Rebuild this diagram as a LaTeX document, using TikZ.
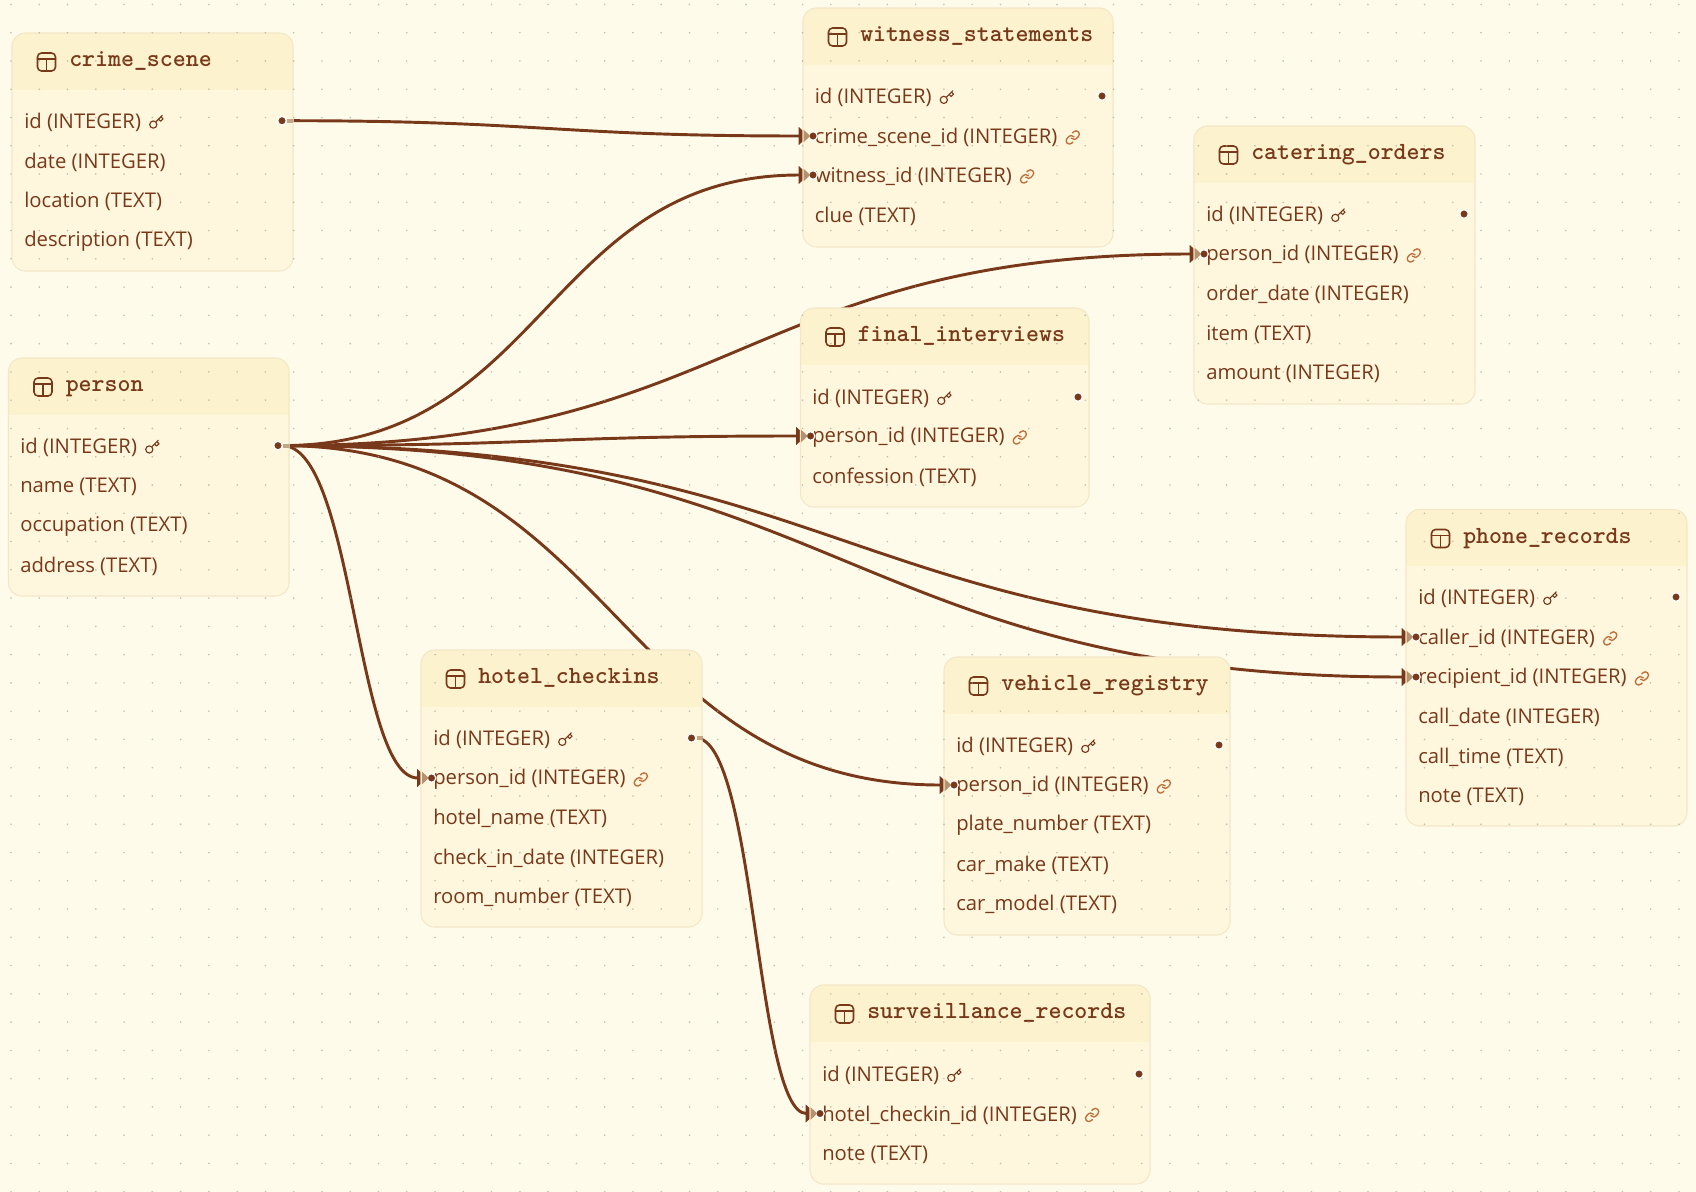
\documentclass[tikz,border=0pt]{standalone}
\usepackage{fontspec}
\setmainfont{Open Sans}
\usetikzlibrary{arrows}
\usetikzlibrary{arrows.meta}
\usetikzlibrary{svg.path}
\definecolor{paper}{HTML}{FFFBEB}
\definecolor{cardbody}{HTML}{FEF6DD}
\definecolor{cardhead}{HTML}{FCF2CD}
\definecolor{cardline}{HTML}{F4E7C8}
\definecolor{ink}{HTML}{78391A}
\definecolor{linkink}{HTML}{BE6F3A}
\definecolor{stub}{HTML}{B4926F}
\definecolor{griddot}{HTML}{ABA698}
\pgfdeclarelayer{edges}
\pgfsetlayers{edges,main}
\tikzset{
  rowtext/.style={anchor=west,inner sep=0pt,yshift=-1.1pt,text=ink,font=\fontsize{15.2}{18}\selectfont},
  headtext/.style={anchor=base west,inner sep=0pt,text=ink,font=\fontsize{18.5}{22}\ttfamily\bfseries},
  handle/.style={circle,fill=ink,draw=white,line width=0.9pt,inner sep=0pt,minimum size=6.4pt,outer sep=0pt},
  rel/.style={draw=ink,line width=2.2pt,-{Triangle[length=7.5pt,width=13pt]}},
  keyicon/.pic={
    \draw[ink,line width=0.85pt] (-3,2.4) circle (3.6);
    \draw[ink,line width=0.85pt] (6,-6.7) -- (-0.4,-0.3) (2.3,-3) -- (4.3,-1) -- (6.7,-3.3) -- (4.7,-5.3);
  },
  linkicon/.pic={
    \draw[linkink,line width=1pt,xshift=-6pt,yshift=6pt,yscale=-1,scale=0.5] svg {M10 13a5 5 0 0 0 7.54.54l3-3a5 5 0 0 0-7.07-7.07l-1.72 1.71};
    \draw[linkink,line width=1pt,xshift=-6pt,yshift=6pt,yscale=-1,scale=0.5] svg {M14 11a5 5 0 0 0-7.54-.54l-3 3a5 5 0 0 0 7.07 7.07l1.71-1.71};
  },
  tabicon/.pic={
    \draw[ink,line width=1.2pt,rounded corners=3] (-9,-9) rectangle (9,9);
    \draw[ink,line width=1.2pt] (-9,-3) -- (9,-3) (0,-3) -- (0,9);
  },
  tiplight/.pic={\fill[stub] (-9.3,-6.2) -- (-2.8,0) -- (-9.3,6.2) -- cycle;},
  stublight/.pic={\fill[stub,fill opacity=0.8] (5,-2) rectangle (11,2);}
}
% table card: name, left, top, right, bottom, title
\newcommand{\tablecard}[6]{
  \fill[cardbody,rounded corners=10] (#2,#3) rectangle (#4,#5);
  \begin{scope}
  \clip[rounded corners=10] (#2,#3) rectangle (#4,#5);
  \fill[cardhead] (#2,#3) rectangle (#4,#3+56.6);
  \end{scope}
  \draw[cardline,line width=0.8pt,rounded corners=10] (#2,#3) rectangle (#4,#5);
  \pic at (#2+34.5,#3+29) {tabicon};
  \node[headtext] (#1) at (#2+57,#3+33.5) {#6};
}
\begin{document}
\begin{tikzpicture}[line cap=round,line join=round,>=Stealth,x=0.75pt,y=-0.75pt]
\useasboundingbox (0,0) rectangle (1696,1192);
\begin{pgfonlayer}{edges}
\fill[paper] (0,0) rectangle (1696,1192);
\end{pgfonlayer}
\tablecard{crime_scene}{12}{33}{293}{271}{crime\_scene}
\tablecard{witness_statements}{803}{8}{1113}{247}{witness\_statements}
\tablecard{catering_orders}{1194}{126}{1475}{404}{catering\_orders}
\tablecard{final_interviews}{800.5}{308}{1089}{507}{final\_interviews}
\tablecard{person}{8.5}{358}{289}{596}{person}
\tablecard{phone_records}{1406}{509.5}{1687}{826}{phone\_records}
\tablecard{hotel_checkins}{421}{650}{702}{927}{hotel\_checkins}
\tablecard{vehicle_registry}{944}{657}{1230}{935}{vehicle\_registry}
\tablecard{surveillance_records}{810}{985}{1150}{1184}{surveillance\_records}
% grid
\fill[griddot,fill opacity=0.7] \foreach \gx in {0,...,59} {\foreach \gy in {0,...,42} {(11+28.27*\gx,4.4+28.27*\gy) circle (0.9)}};
% crime_scene
\node[rowtext] (cs_id) at (24,120.7) {id (INTEGER)};
\node[rowtext] (cs_date) at (24,160.5) {date (INTEGER)};
\node[rowtext] (cs_location) at (24,200) {location (TEXT)};
\node[rowtext] (cs_description) at (24,239.5) {description (TEXT)};
\pic at ([shift={(15,0)}]cs_id.east) {keyicon};
\node[handle] (cs_id_out) at (282,120.7) {};
% witness_statements
\node[rowtext] (ws_id) at (814.5,96) {id (INTEGER)};
\node[rowtext] (ws_scene) at (814.5,136) {crime\_scene\_id (INTEGER)};
\node[rowtext] (ws_witness) at (814.5,175) {witness\_id (INTEGER)};
\node[rowtext] (ws_clue) at (814.5,215) {clue (TEXT)};
\pic at ([shift={(15,0)}]ws_id.east) {keyicon};
\pic at ([shift={(15,0)}]ws_scene.east) {linkicon};
\pic at ([shift={(15,0)}]ws_witness.east) {linkicon};
\node[handle] (ws_id_out) at (1102,96) {};
\node[handle] (ws_scene_in) at (813,136) {};
\node[handle] (ws_witness_in) at (813,175) {};
% catering_orders
\node[rowtext] (co_id) at (1206,214) {id (INTEGER)};
\node[rowtext] (co_person) at (1206,254) {person\_id (INTEGER)};
\node[rowtext] (co_date) at (1206,293) {order\_date (INTEGER)};
\node[rowtext] (co_item) at (1206,333) {item (TEXT)};
\node[rowtext] (co_amount) at (1206,372) {amount (INTEGER)};
\pic at ([shift={(15,0)}]co_id.east) {keyicon};
\pic at ([shift={(15,0)}]co_person.east) {linkicon};
\node[handle] (co_id_out) at (1464,214) {};
\node[handle] (co_person_in) at (1204,254) {};
% final_interviews
\node[rowtext] (fi_id) at (812,397) {id (INTEGER)};
\node[rowtext] (fi_person) at (812,436) {person\_id (INTEGER)};
\node[rowtext] (fi_confession) at (812,476) {confession (TEXT)};
\pic at ([shift={(15,0)}]fi_id.east) {keyicon};
\pic at ([shift={(15,0)}]fi_person.east) {linkicon};
\node[handle] (fi_id_out) at (1078,397) {};
\node[handle] (fi_person_in) at (810.5,436) {};
% person
\node[rowtext] (pe_id) at (20,445.6) {id (INTEGER)};
\node[rowtext] (pe_name) at (20,485.6) {name (TEXT)};
\node[rowtext] (pe_occupation) at (20,525) {occupation (TEXT)};
\node[rowtext] (pe_address) at (20,564.6) {address (TEXT)};
\pic at ([shift={(15,0)}]pe_id.east) {keyicon};
\node[handle] (pe_id_out) at (278,445.6) {};
% phone_records
\node[rowtext] (pr_id) at (1418,597) {id (INTEGER)};
\node[rowtext] (pr_caller) at (1418,637) {caller\_id (INTEGER)};
\node[rowtext] (pr_recipient) at (1418,677) {recipient\_id (INTEGER)};
\node[rowtext] (pr_date) at (1418,716) {call\_date (INTEGER)};
\node[rowtext] (pr_time) at (1418,756) {call\_time (TEXT)};
\node[rowtext] (pr_note) at (1418,795) {note (TEXT)};
\pic at ([shift={(15,0)}]pr_id.east) {keyicon};
\pic at ([shift={(15,0)}]pr_caller.east) {linkicon};
\pic at ([shift={(15,0)}]pr_recipient.east) {linkicon};
\node[handle] (pr_id_out) at (1676,597) {};
\node[handle] (pr_caller_in) at (1416,637) {};
\node[handle] (pr_recipient_in) at (1416,677) {};
% hotel_checkins
\node[rowtext] (hc_id) at (433,738) {id (INTEGER)};
\node[rowtext] (hc_person) at (433,778) {person\_id (INTEGER)};
\node[rowtext] (hc_hotel) at (433,817) {hotel\_name (TEXT)};
\node[rowtext] (hc_date) at (433,857) {check\_in\_date (INTEGER)};
\node[rowtext] (hc_room) at (433,896) {room\_number (TEXT)};
\pic at ([shift={(15,0)}]hc_id.east) {keyicon};
\pic at ([shift={(15,0)}]hc_person.east) {linkicon};
\node[handle] (hc_id_out) at (691.5,738) {};
\node[handle] (hc_person_in) at (431.5,778) {};
% vehicle_registry
\node[rowtext] (vr_id) at (956,745) {id (INTEGER)};
\node[rowtext] (vr_person) at (956,785) {person\_id (INTEGER)};
\node[rowtext] (vr_plate) at (956,824) {plate\_number (TEXT)};
\node[rowtext] (vr_make) at (956,864) {car\_make (TEXT)};
\node[rowtext] (vr_model) at (956,903) {car\_model (TEXT)};
\pic at ([shift={(15,0)}]vr_id.east) {keyicon};
\pic at ([shift={(15,0)}]vr_person.east) {linkicon};
\node[handle] (vr_id_out) at (1219,745) {};
\node[handle] (vr_person_in) at (954,785) {};
% surveillance_records
\node[rowtext] (sr_id) at (822,1074) {id (INTEGER)};
\node[rowtext] (sr_checkin) at (822,1113.5) {hotel\_checkin\_id (INTEGER)};
\node[rowtext] (sr_note) at (822,1153) {note (TEXT)};
\pic at ([shift={(15,0)}]sr_id.east) {keyicon};
\pic at ([shift={(15,0)}]sr_checkin.east) {linkicon};
\node[handle] (sr_id_out) at (1139,1074) {};
\node[handle] (sr_checkin_in) at (820,1113.5) {};
% lighter ends of the connectors
\pic at (cs_id_out) {stublight};
\pic at (pe_id_out) {stublight};
\pic at (hc_id_out) {stublight};
\pic at (ws_scene_in) {tiplight};
\pic at (ws_witness_in) {tiplight};
\pic at (co_person_in) {tiplight};
\pic at (fi_person_in) {tiplight};
\pic at (pr_caller_in) {tiplight};
\pic at (pr_recipient_in) {tiplight};
\pic at (hc_person_in) {tiplight};
\pic at (vr_person_in) {tiplight};
\pic at (sr_checkin_in) {tiplight};
% connectors
\begin{pgfonlayer}{edges}
\draw[rel] (cs_id_out) .. controls +(260,0) and +(-260,0) .. (ws_scene_in);
\draw[rel] (pe_id_out) .. controls +(267,0) and +(-267,0) .. (ws_witness_in);
\draw[rel] (pe_id_out) .. controls +(462,0) and +(-462,0) .. (co_person_in);
\draw[rel] (pe_id_out) .. controls +(265,0) and +(-265,0) .. (fi_person_in);
\draw[rel] (pe_id_out) .. controls +(568,0) and +(-568,0) .. (pr_caller_in);
\draw[rel] (pe_id_out) .. controls +(568,0) and +(-568,0) .. (pr_recipient_in);
\draw[rel] (pe_id_out) .. controls +(76,0) and +(-76,0) .. (hc_person_in);
\draw[rel] (pe_id_out) .. controls +(337,0) and +(-337,0) .. (vr_person_in);
\draw[rel] (hc_id_out) .. controls +(64,0) and +(-64,0) .. (sr_checkin_in);
\end{pgfonlayer}
\end{tikzpicture}
\end{document}
